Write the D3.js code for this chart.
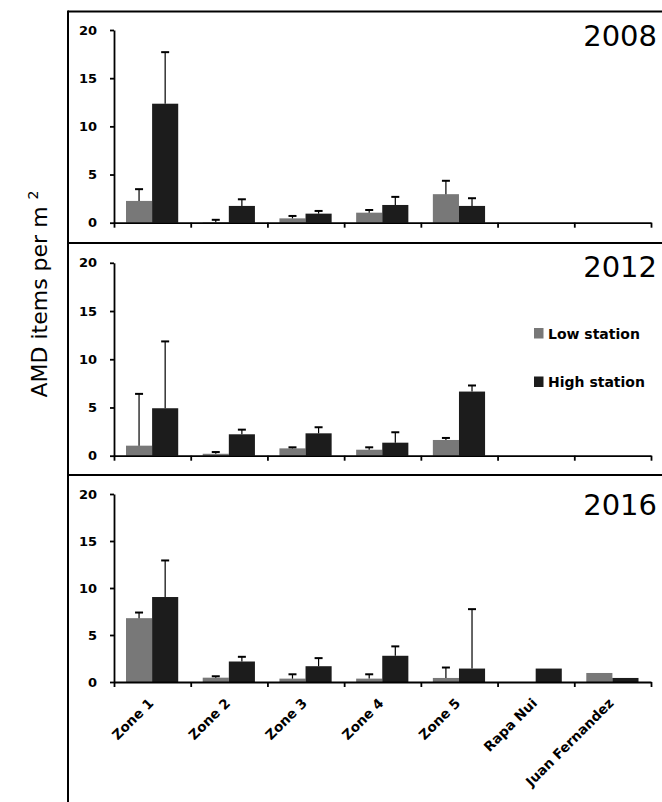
<!DOCTYPE html>
<html>
<head>
<meta charset="utf-8">
<script src="https://cdn.jsdelivr.net/npm/d3@7"></script>
<style>
  body { margin: 0; background: #fff; }
  svg { display: block; font-family: "DejaVu Sans", sans-serif; }
</style>
</head>
<body>
<div id="chart"></div>
<script>
// categories and series
const sites = ["Zone 1", "Zone 2", "Zone 3", "Zone 4", "Zone 5", "Rapa Nui", "Juan Fernandez"];
const stations = ["low", "high"];
const stationNames = ["Low station", "High station"];
const yTicks = [0, 5, 10, 15, 20];

// 2008
const low2008 = [2.26, 0.05, 0.45, 1.04, 2.96, 0, 0];
const lowErr2008 = [3.48, 0.3, 0.7, 1.32, 4.35, null, null];
const high2008 = [12.35, 1.74, 0.94, 1.84, 1.74, 0, 0];
const highErr2008 = [17.7, 2.43, 1.22, 2.68, 2.54, null, null];

// 2012
const low2012 = [1.04, 0.2, 0.76, 0.62, 1.63, 0, 0];
const lowErr2012 = [6.41, 0.38, 0.87, 0.87, 1.84, null, null];
const high2012 = [4.92, 2.22, 2.32, 1.35, 6.65, 0, 0];
const highErr2012 = [11.85, 2.7, 2.95, 2.43, 7.28, null, null];

// 2016
const low2016 = [6.79, 0.46, 0.36, 0.36, 0.43, 0, 0.96];
const lowErr2016 = [7.39, 0.61, 0.82, 0.82, 1.54, null, null];
const high2016 = [9.04, 2.18, 1.68, 2.79, 1.43, 1.43, 0.43];
const highErr2016 = [12.93, 2.68, 2.54, 3.79, 7.75, null, null];

const years = ["2008", "2012", "2016"];

const width = 662;
const height = 802;

// panel layout (y of value 20 and value 0)
const panels = [
  {year: years[0], top: 30, bottom: 222.7, low: low2008, lowErr: lowErr2008, high: high2008, highErr: highErr2008, yearY: 46},
  {year: years[1], top: 262.8, bottom: 455.7, low: low2012, lowErr: lowErr2012, high: high2012, highErr: highErr2012, yearY: 277},
  {year: years[2], top: 494, bottom: 682, low: low2016, lowErr: lowErr2016, high: high2016, highErr: highErr2016, yearY: 515}
];

const colors = d3.scaleOrdinal().domain(stations).range(["#787878", "#1c1c1c"]);

const x = d3.scaleBand()
            .domain(sites)
            .range([114, 651])
            .padding(0)

const x1 = d3.scaleBand()
            .domain(stations)
            .range([12, x.bandwidth() - 12.5])
            .padding(0)

// boundaries between categories, for the tick marks
const xEdges = d3.scaleLinear()
            .domain([0, sites.length])
            .range(x.range())

const svg = d3.select("#chart")
              .append("svg")
              .attr("width", width)
              .attr("height", height)

// frame
const frame = svg.append("g")
    .attr("stroke", "#000")
    .attr("stroke-width", 2)
frame.append("line").attr("x1", 68).attr("x2", width).attr("y1", 11.5).attr("y2", 11.5)
frame.append("line").attr("x1", 68).attr("x2", 68).attr("y1", 10.5).attr("y2", height)
frame.append("line").attr("x1", 68).attr("x2", width).attr("y1", 243).attr("y2", 243)
frame.append("line").attr("x1", 68).attr("x2", width).attr("y1", 475).attr("y2", 475)

panels.forEach((p, pi) => {
  const y = d3.scaleLinear()
              .domain([0, 20])
              .range([p.bottom, p.top])

  const g = svg.append("g")

  const rows = sites.map((s, i) => ({
    site: s,
    values: [
      {key: "low", v: p.low[i], err: p.lowErr[i]},
      {key: "high", v: p.high[i], err: p.highErr[i]}
    ]
  }))

  const groups = g.selectAll("g.site")
    .data(rows)
    .join("g")
      .attr("class", "site")
      .attr("transform", d => `translate(${x(d.site)},0)`)

  groups.selectAll("rect")
    .data(d => d.values)
    .join("rect")
      .attr("x", d => x1(d.key))
      .attr("width", x1.bandwidth())
      .attr("y", d => y(d.v))
      .attr("height", d => y(0) - y(d.v))
      .attr("fill", d => colors(d.key))

  // error bars, upper side only
  const errs = groups.selectAll("g.err")
    .data(d => d.values.filter(v => v.err != null))
    .join("g")
      .attr("class", "err")
      .attr("stroke", "#000")
  errs.append("line")
      .attr("x1", d => x1(d.key) + x1.bandwidth() / 2)
      .attr("x2", d => x1(d.key) + x1.bandwidth() / 2)
      .attr("y1", d => y(d.v))
      .attr("y2", d => y(d.err))
      .attr("stroke-width", 1.2)
  errs.append("line")
      .attr("x1", d => x1(d.key) + x1.bandwidth() / 2 - 4)
      .attr("x2", d => x1(d.key) + x1.bandwidth() / 2 + 4)
      .attr("y1", d => y(d.err))
      .attr("y2", d => y(d.err))
      .attr("stroke-width", 2)

  // y axis
  const yAxis = g.append("g")
    .attr("transform", "translate(114,0)")
    .call(d3.axisLeft(y).tickValues(yTicks).tickSize(4).tickSizeOuter(0).tickPadding(13))
  yAxis.select(".domain").attr("stroke-width", 1.8)
  yAxis.selectAll(".tick line").attr("stroke-width", 1.8)
  yAxis.selectAll("text")
    .attr("font-family", "DejaVu Sans")
    .attr("font-weight", "bold")
    .attr("font-size", 13)
    .attr("fill", "#000")

  // x axis with ticks on category edges
  const xAxis = g.append("g")
    .attr("transform", `translate(0,${p.bottom})`)
    .call(d3.axisBottom(xEdges).ticks(sites.length).tickSize(5).tickSizeOuter(0).tickFormat(""))
  xAxis.select(".domain").attr("stroke-width", 1.8)
  xAxis.selectAll(".tick line").attr("stroke-width", 1.8)

  // year label
  g.append("text")
    .attr("x", 657)
    .attr("y", p.yearY)
    .attr("text-anchor", "end")
    .attr("font-family", "DejaVu Sans")
    .attr("font-size", 29)
    .attr("fill", "#000")
    .text(p.year)

  // category labels only under the last panel
  if (pi === panels.length - 1) {
    const labels = g.append("g")
      .attr("transform", `translate(0,${p.bottom})`)
      .call(d3.axisBottom(x).tickSize(0).tickPadding(0))
    labels.select(".domain").remove()
    labels.selectAll("text")
      .attr("font-family", "DejaVu Sans")
      .attr("font-weight", "bold")
      .attr("font-size", 13.5)
      .attr("fill", "#000")
      .attr("text-anchor", "end")
      .attr("dy", 0)
      .attr("transform", "translate(2,22) rotate(-45)")
  }
})

// legend (in 2012 panel)
const legend = svg.append("g")
  .selectAll("g")
  .data(stations)
  .join("g")
    .attr("transform", (d, i) => `translate(534,${328 + i * 48.5})`)
legend.append("rect")
    .attr("width", 9.5)
    .attr("height", 10.5)
    .attr("fill", d => colors(d))
legend.append("text")
    .attr("x", 14)
    .attr("y", 10.8)
    .attr("font-family", "DejaVu Sans")
    .attr("font-weight", "bold")
    .attr("font-size", 14)
    .attr("fill", "#000")
    .text((d, i) => stationNames[i])

// y title
const title = svg.append("text")
    .attr("transform", "translate(47,294) rotate(-90)")
    .attr("text-anchor", "middle")
    .attr("font-family", "DejaVu Sans")
    .attr("font-size", 22)
    .attr("fill", "#000")
title.append("tspan").text("AMD items per m ")
title.append("tspan").attr("font-size", 14).attr("dy", -9).text("2")
</script>
</body>
</html>
